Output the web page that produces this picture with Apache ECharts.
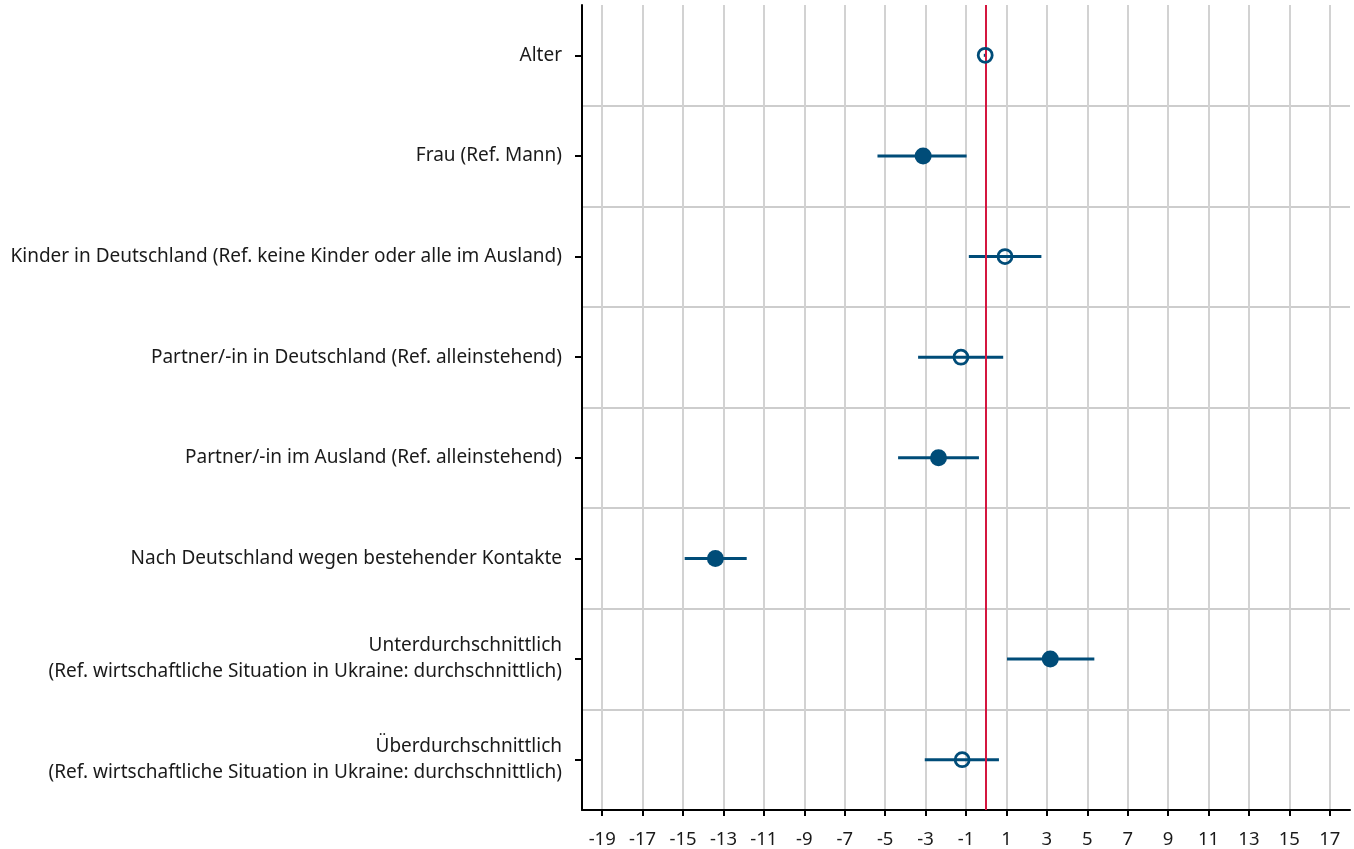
<!DOCTYPE html>
<html>
<head>
<meta charset="utf-8">
<title>Koeffizienten</title>
<script src="https://cdn.jsdelivr.net/npm/echarts@6/dist/echarts.min.js"></script>
<style>
  html, body { margin: 0; padding: 0; background: #ffffff; }
  #chart { width: 1354px; height: 849px; }
</style>
</head>
<body>
<div id="chart"></div>
<script>
// Merkmale (von oben nach unten)
const categories = [
  'Alter',
  'Frau (Ref. Mann)',
  'Kinder in Deutschland (Ref. keine Kinder oder alle im Ausland)',
  'Partner/-in in Deutschland (Ref. alleinstehend)',
  'Partner/-in im Ausland (Ref. alleinstehend)',
  'Nach Deutschland wegen bestehender Kontakte',
  'Unterdurchschnittlich\n(Ref. wirtschaftliche Situation in Ukraine: durchschnittlich)',
  'Überdurchschnittlich\n(Ref. wirtschaftliche Situation in Ukraine: durchschnittlich)'
];

// Punktschätzer und Konfidenzintervalle (Prozentpunkte)
const estimates = [-0.05, -3.12, 0.93, -1.25, -2.36, -13.4, 3.17, -1.19];
const ciLow     = [-0.12, -5.38, -0.86, -3.37, -4.36, -14.92, 1.03, -3.04];
const ciHigh    = [0.02, -0.97, 2.73, 0.84, -0.36, -11.85, 5.35, 0.63];
// signifikant = gefüllter Punkt
const significant = [false, true, false, false, true, true, true, false];

// Beschriftete Werte der x-Achse
const xTicks = [-19, -17, -15, -13, -11, -9, -7, -5, -3, -1, 1, 3, 5, 7, 9, 11, 13, 15, 17];

const blue = '#004c78';
const red = '#d4163f';
const fontFamily = '"Noto Sans", sans-serif';

const filledData = [];
const hollowData = [];
estimates.forEach((v, i) => {
  (significant[i] ? filledData : hollowData).push([v, categories[i]]);
});
const ciData = estimates.map((v, i) => [categories[i], ciLow[i], ciHigh[i]]);

const chart = echarts.init(document.getElementById('chart'), null, { renderer: 'canvas' });

chart.setOption({
  animation: false,
  backgroundColor: '#ffffff',
  grid: { left: 582, right: 4, top: 5, bottom: 39, containLabel: false },
  xAxis: {
    type: 'value',
    min: -20,
    max: 18,
    axisLine: { show: true, onZero: false, lineStyle: { color: '#000', width: 2 } },
    axisTick: {
      show: true, length: 6, customValues: xTicks,
      lineStyle: { color: '#000', width: 2 }
    },
    axisLabel: {
      customValues: xTicks, margin: 20, color: '#1a1a1a',
      fontSize: 18.5, fontFamily: fontFamily
    },
    splitLine: { show: true, lineStyle: { color: '#d2d2d2', width: 2 } }
  },
  yAxis: {
    type: 'category',
    inverse: true,
    data: categories,
    axisLine: { show: true, onZero: false, lineStyle: { color: '#000', width: 2 } },
    axisTick: { show: true, alignWithLabel: true, length: 7, lineStyle: { color: '#000', width: 2 } },
    axisLabel: {
      margin: 20, color: '#1a1a1a', fontSize: 19, lineHeight: 26,
      fontFamily: fontFamily, align: 'right'
    },
    splitLine: {
      show: true, showMinLine: false, showMaxLine: false,
      lineStyle: { color: '#bdbdbd', width: 1.5 }
    }
  },
  series: [
    {
      name: 'KI',
      type: 'custom',
      data: ciData,
      dimensions: ['kategorie', 'unten', 'oben'],
      encode: { y: 0, x: [1, 2] },
      renderItem: function (params, api) {
        const cat = api.value(0);
        const a = api.coord([api.value(1), cat]);
        const b = api.coord([api.value(2), cat]);
        return {
          type: 'line',
          shape: { x1: a[0], y1: a[1], x2: b[0], y2: b[1] },
          style: { stroke: blue, lineWidth: 3 }
        };
      },
      z: 3
    },
    {
      name: 'signifikant',
      type: 'scatter',
      data: filledData,
      symbol: 'circle',
      symbolSize: 17,
      itemStyle: { color: blue, opacity: 1 },
      z: 5,
      markLine: {
        silent: true,
        symbol: 'none',
        label: { show: false },
        lineStyle: { color: red, width: 2, type: 'solid' },
        data: [{ xAxis: 0 }],
        z: 4
      }
    },
    {
      name: 'nicht signifikant',
      type: 'scatter',
      data: hollowData,
      symbol: 'circle',
      symbolSize: 14,
      itemStyle: { color: 'rgba(255,255,255,0)', borderColor: blue, borderWidth: 2.8, opacity: 1 },
      z: 5
    }
  ]
});
</script>
</body>
</html>
